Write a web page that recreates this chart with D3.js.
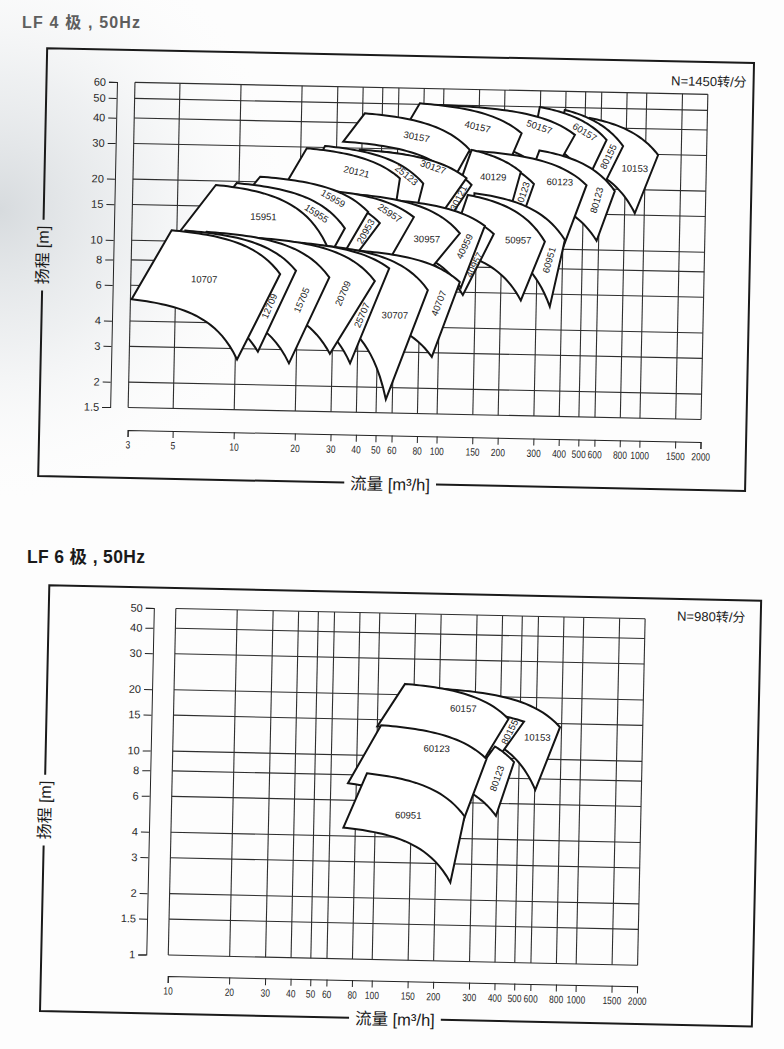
<!DOCTYPE html>
<html>
<head>
<meta charset="utf-8">
<script src="https://cdn.jsdelivr.net/npm/d3@7"></script>
<style>
  html,body{margin:0;padding:0;background:#fff;}
  svg{display:block;}
</style>
</head>
<body>
<svg id="page" width="784" height="1049"></svg>
<script>
// ======================= DATA =======================
// ---- LF 4-pole, 50Hz (N=1450) ----
const flowTicks4 = [3,5,10,20,30,40,50,60,80,100,150,200,300,400,500,600,800,1000,1500,2000];
const headTicks4 = [1.5,2,3,4,6,8,10,15,20,30,40,50,60];
// pump models, listed from the back layer to the front layer
const models4 = ["10153","80155","60157","50157","40157","30157",
  "80123","60123","50123","40129","30121","30127","25123","20121",
  "60951","50957","40957","40959","30957","25957","20953","15959","15955","15951",
  "40707","30707","25707","20709","15705","12709","10707"];
// corners of each operating range [flow m3/h, head m]
const topLeft4 = [[527,44.6],[396,48.6],[298,49.9],[95,49.9],[76.4,50.6],[41,44.6],
  [300,30.5],[150,29.8],[160,28],[139,30.2],[50,29],[39.1,29.5],[26.3,30.5],[21.4,29.6],
  [145,18.5],[134.5,18.1],[50,16.5],[45,17],[30,18],[22,18.7],[20,18.2],[12.7,21.2],[9.74,19.6],[7.7,19.1],
  [38,9.4],[26,9.85],[18,10.2],[12,10.6],[7,11.2],[5.5,11.3],[4.71,11.3]];
const topRight4 = [[1154,29.8],[774,32.7],[641,34.9],[447,36.7],[244,36.9],[136,30.2],
  [712,19.6],[516,20.8],[284,20.8],[244,23.8],[140,20.3],[132,21.9],[80.9,20.4],[62,21.5],
  [409,11.12],[326,10.86],[182.3,11.7],[164.4,12.8],[124,11.7],[73.3,13.9],[49.9,12.9],[43.6,14.6],[33.6,12.05],[27.4,9.93],
  [125.4,6.73],[87.4,6.10],[56.1,7.73],[47.8,6.67],[28.5,6.88],[19.5,7.36],[16.3,7.06]];
const bottomRight4 = [[898,15.3],[600,19],[520,22],[340,22],[205,24],[115,22],
  [586,11.1],[360,7.5],[230,11],[200,11],[89,10],[83,11],[70,11],[56,10],
  [350,5.2],[251.6,5.54],[130.2,5.81],[127,6.3],[63.5,5],[41.9,5],[25.3,5],[24,5],[21.2,5],[16.6,4.0],
  [92.9,2.86],[55.7,1.75],[36.8,2.61],[29.2,2.89],[18.4,2.57],[12.9,2.91],[10.2,2.65]];
const bottomLeft4 = [[500,25.5],[380,40],[280,35],[90,35],[60,33],[32.3,32.2],
  [250,18.2],[140,15],[130,16],[110,15],[35,14],[28,16],[18,14],[12.9,12],
  [140,11],[110,9.6],[45,10],[40,10.5],[20,12],[14,11],[10,10],[7,10],[5.5,9],[4.04,8.0],
  [30,4.6],[20,5.0],[14,5.0],[10,5.2],[4.5,5.0],[5,4.9],[3.04,5.12]];
const labelAt4 = [[889,25.5],[655,28.9],[500,38.1],[298,39.9],[148,39.4],[74.2,34.7],
  [580,17.6],[381,21.5],[250,18.4],[178.6,22.4],[121,17.5],[90.2,24.7],[66.9,22.4],[37.9,23],
  [343,8.83],[240.7,11],[147,8.2],[131,10.1],[85.4,10.9],[55.8,14.5],[42.5,11.7],[29.2,16.9],[24.3,14.2],[13.3,13.5],
  [99,5.27],[60.5,4.56],[41.5,4.52],[33.3,5.76],[20.9,5.29],[14.5,4.9],[6.9,6.55]];
const labelAngle4 = [0,-65,30,18,12,10, -75,0,-72,0,-65,18,38,12,
  -75,0,-65,-65,0,32,-62,28,32,0, -70,0,-68,-68,-68,-68,0];

// ---- LF 6-pole, 50Hz (N=980) ----
const flowTicks6 = [10,20,30,40,50,60,80,100,150,200,300,400,500,600,800,1000,1500,2000];
const headTicks6 = [1,1.5,2,3,4,6,8,10,15,20,30,40,50];
const models6 = ["10153","80155","60157","80123","60123","60951"];
const topLeft6 = [[200,21.6],[260,17],[135.3,22.6],[379,11.4],[104.3,14.1],[90,8.16]];
const topRight6 = [[786.3,14.4],[523.1,15.2],[438.8,15.6],[472,9.61],[345.7,9.88],[273.7,5.14]];
const bottomRight6 = [[603.9,7.05],[380,9.5],[330,9.5],[390,5.21],[240,3.5],[236.9,2.43]];
const bottomLeft6 = [[300,13],[250,16],[100,13.9],[270,7.0],[72.8,7.26],[69.9,4.4]];
const labelAt6 = [[610,12.8],[445,13.5],[262.8,17.4],[390,7.97],[196.6,11.0],[145,5.15]];
const labelAngle6 = [0,-65,0,-72,0,0];

// ======================= DRAWING =======================
const FONT = '"Liberation Sans", Arial, "Noto Sans CJK SC", sans-serif';
const svg = d3.select("#page");

// faint scan shading
const defs = svg.append("defs");
const gr = defs.append("radialGradient").attr("id","scanL").attr("gradientUnits","userSpaceOnUse")
  .attr("cx",0).attr("cy",210).attr("r",300);
gr.append("stop").attr("offset",0).attr("stop-color","#cdd2d6").attr("stop-opacity",0.8);
gr.append("stop").attr("offset",0.45).attr("stop-color","#dde1e4").attr("stop-opacity",0.45);
gr.append("stop").attr("offset",1).attr("stop-color","#ffffff").attr("stop-opacity",0);
svg.append("rect").attr("width",784).attr("height",1049).attr("fill","#fdfdfd");
svg.append("rect").attr("x",0).attr("y",0).attr("width",784).attr("height",1049).attr("fill","url(#scanL)");

// parabolic pump curve H = A - cQ^2 through two points
function curvePts(p0, p1, n = 28) {
  if (p0[0] === p1[0]) return [p0, p1];
  const c = (p0[1] - p1[1]) / (p1[0] * p1[0] - p0[0] * p0[0]);
  const A = p0[1] + c * p0[0] * p0[0];
  const l0 = Math.log(p0[0]), l1 = Math.log(p1[0]);
  const pts = [];
  for (let k = 0; k <= n; k++) {
    const q = Math.exp(l0 + (l1 - l0) * k / n);
    pts.push([q, A - c * q * q]);
  }
  return pts;
}

function drawChart(cfg, d) {
  const root = svg.append("g").attr("transform", `rotate(${cfg.angle},${cfg.cx},${cfg.cy})`);
  const x = d3.scaleLog().domain([d.flowTicks[0], d.flowTicks[d.flowTicks.length - 1]]).range([cfg.x0, cfg.x1]);
  const y = d3.scaleLog().domain([d.headTicks[0], d.headTicks[d.headTicks.length - 1]]).range([cfg.y0, cfg.y1]);

  // grid
  const grid = root.append("g").attr("stroke", "#2e2e2e").attr("stroke-width", 1.1);
  grid.selectAll("line.v").data(d.flowTicks).join("line").attr("class", "v")
    .attr("x1", q => x(q)).attr("x2", q => x(q)).attr("y1", cfg.y0).attr("y2", cfg.y1);
  grid.selectAll("line.h").data(d.headTicks).join("line").attr("class", "h")
    .attr("y1", h => y(h)).attr("y2", h => y(h)).attr("x1", cfg.x0).attr("x2", cfg.x1);

  // operating ranges
  const line = d3.line().x(p => x(p[0])).y(p => y(p[1]));
  const shapes = root.append("g");
  d.models.forEach((m, i) => {
    const pts = curvePts(d.tl[i], d.tr[i]).concat(curvePts(d.bl[i], d.br[i]).reverse());
    shapes.append("path").attr("d", line(pts) + "Z")
      .attr("fill", "#fff").attr("stroke", "#141414").attr("stroke-width", 2)
      .attr("stroke-linejoin", "miter").attr("stroke-miterlimit", 8);
    const lx = x(d.lab[i][0]), ly = y(d.lab[i][1]);
    shapes.append("text").text(m)
      .attr("transform", `translate(${lx},${ly}) rotate(${d.rot[i]})`)
      .attr("text-anchor", "middle").attr("dominant-baseline", "central")
      .attr("font-family", FONT).attr("font-size", 9.5).attr("fill", "#222");
  });

  // axes
  const ya = root.append("g").attr("transform", `translate(${cfg.x0 - cfg.yGap},0)`)
    .call(d3.axisLeft(y).tickValues(d.headTicks).tickFormat(v => String(v)).tickSize(8).tickPadding(3));
  const xa = root.append("g").attr("transform", `translate(0,${cfg.y0 + cfg.xGap})`)
    .call(d3.axisBottom(x).tickValues(d.flowTicks).tickFormat(v => String(v)).tickSize(7).tickPadding(4));
  ya.attr("font-size", 11); xa.attr("font-size", 10.5);
  [ya, xa].forEach(a => {
    a.attr("font-family", FONT);
    a.selectAll("text").attr("fill", "#2a2a2a");
    a.selectAll("line,path").attr("stroke", "#222").attr("stroke-width", 1);
  });
  // condensed flow labels, as printed
  xa.selectAll("text").each(function () {
    const w = this.getComputedTextLength();
    this.setAttribute("textLength", (w * 0.8).toFixed(2));
    this.setAttribute("lengthAdjust", "spacingAndGlyphs");
  });

  // titles
  root.append("text").text(cfg.speed)
    .attr("x", cfg.speedPos[0]).attr("y", cfg.speedPos[1]).attr("text-anchor", "end")
    .attr("font-family", FONT).attr("font-size", 13).attr("fill", "#222");
  const yt = root.append("text").text("扬程 [m]")
    .attr("transform", `translate(${cfg.yTitle[0]},${cfg.yTitle[1]}) rotate(-90)`)
    .attr("text-anchor", "middle").attr("dominant-baseline", "central")
    .attr("font-family", FONT).attr("font-size", 16).attr("fill", "#1a1a1a");
  const xt = root.append("text").text("流量 [m³/h]")
    .attr("x", cfg.xTitle[0]).attr("y", cfg.xTitle[1])
    .attr("text-anchor", "middle").attr("dominant-baseline", "central")
    .attr("font-family", FONT).attr("font-size", 16.5).attr("fill", "#1a1a1a");
  const yl = yt.node().getComputedTextLength() / 2 + 6;
  const xl = xt.node().getComputedTextLength() / 2 + 6;
  const [fx0, fy0, fx1, fy1] = cfg.frame;
  root.append("path")
    .attr("d", `M${fx0},${cfg.yTitle[1] - yl}V${fy0}H${fx1}V${fy1}H${cfg.xTitle[0] + xl}` +
               `M${cfg.xTitle[0] - xl},${fy1}H${fx0}V${cfg.yTitle[1] + yl}`)
    .attr("fill", "none").attr("stroke", "#1a1a1a").attr("stroke-width", 2);
}

drawChart({
  angle: 1.2, cx: 418, cy: 251, x0: 131.5, x1: 704.5, y0: 413.5, y1: 88.3,
  yGap: 18, xGap: 22.5, frame: [43, 56, 750, 484],
  speed: "N=1450转/分", speedPos: [743, 80], yTitle: [43, 263], xTitle: [395, 484.5]
}, { flowTicks: flowTicks4, headTicks: headTicks4, models: models4, tl: topLeft4, tr: topRight4,
     br: bottomRight4, bl: bottomLeft4, lab: labelAt4, rot: labelAngle4 });

drawChart({
  angle: 1.25, cx: 406.5, cy: 786.7, x0: 172, x1: 641.4, y0: 960.2, y1: 613.6,
  yGap: 22, xGap: 21, frame: [45, 593, 757, 1019],
  speed: "N=980转/分", speedPos: [741.6, 614.7], yTitle: [45.6, 818], xTitle: [400, 1019.3]
}, { flowTicks: flowTicks6, headTicks: headTicks6, models: models6, tl: topLeft6, tr: topRight6,
     br: bottomRight6, bl: bottomLeft6, lab: labelAt6, rot: labelAngle6 });

// page headings
svg.append("text").text("LF 4 极 , 50Hz").attr("x", 22).attr("y", 28)
  .attr("font-family", FONT).attr("font-weight", "bold").attr("font-size", 16)
  .attr("textLength", 118).attr("lengthAdjust", "spacing").attr("fill", "#5e5e5e");
svg.append("text").text("LF 6 极 , 50Hz").attr("x", 27).attr("y", 563)
  .attr("font-family", FONT).attr("font-weight", "bold").attr("font-size", 17.5)
  .attr("textLength", 118).attr("lengthAdjust", "spacing").attr("fill", "#1a1a1a");
</script>
</body>
</html>
